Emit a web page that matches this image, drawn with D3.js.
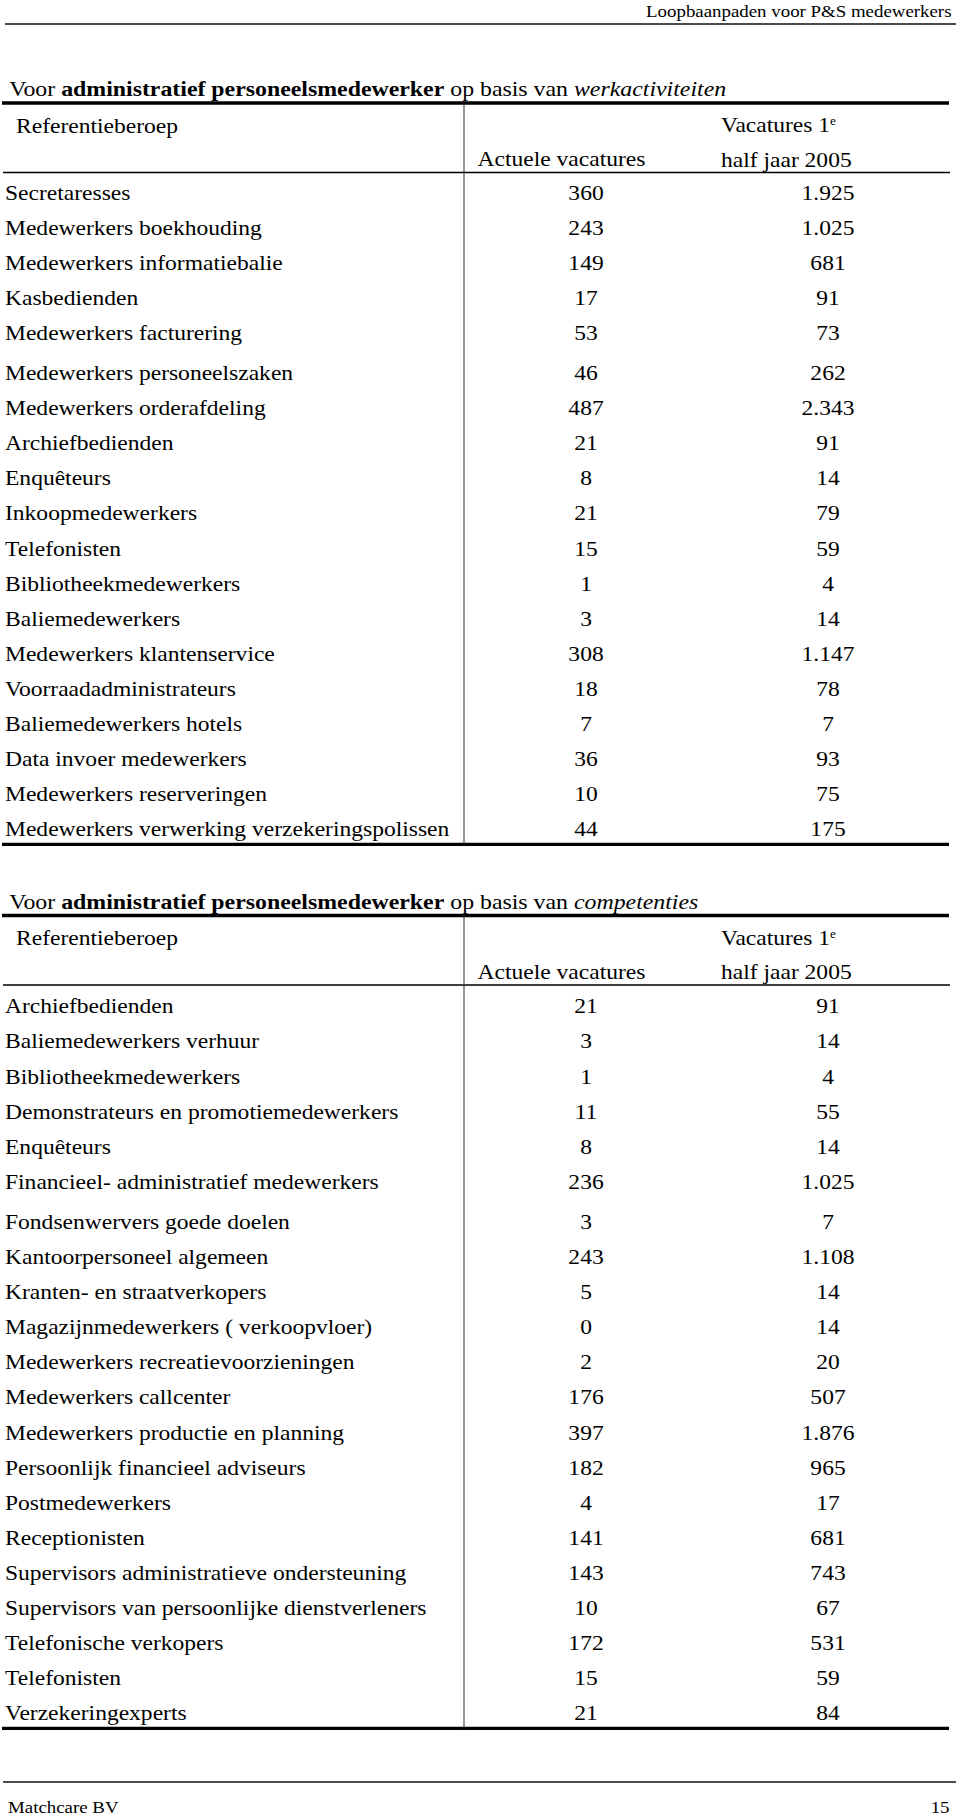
<!DOCTYPE html>
<html lang="nl">
<head>
<meta charset="utf-8">
<title>Loopbaanpaden voor P&amp;S medewerkers</title>
<script src="https://cdn.jsdelivr.net/npm/d3@7"></script>
<style>
  html, body { margin: 0; padding: 0; background: #fff; }
  svg { display: block; }
  text { font-family: "Liberation Serif", "Times New Roman", serif; fill: #000; }
</style>
</head>
<body>
<div id="pagina"></div>
<script>
var width = 960;
var height = 1819;

var kopTekst = 'Loopbaanpaden voor P&S medewerkers';
var voetTekst = 'Matchcare BV';
var paginaNummer = '15';

var kolomKoppen = ['Referentieberoep', 'Actuele vacatures', 'Vacatures 1', 'e', 'half jaar 2005'];
var grondslagen = ['werkactiviteiten', 'competenties'];

// tabel 1: op basis van werkactiviteiten
var beroepenWerk = [
    'Secretaresses', 'Medewerkers boekhouding', 'Medewerkers informatiebalie', 'Kasbedienden',
    'Medewerkers facturering', 'Medewerkers personeelszaken', 'Medewerkers orderafdeling',
    'Archiefbedienden', 'Enquêteurs', 'Inkoopmedewerkers', 'Telefonisten', 'Bibliotheekmedewerkers',
    'Baliemedewerkers', 'Medewerkers klantenservice', 'Voorraadadministrateurs', 'Baliemedewerkers hotels',
    'Data invoer medewerkers', 'Medewerkers reserveringen', 'Medewerkers verwerking verzekeringspolissen'
];
var actueelWerk = [360, 243, 149, 17, 53, 46, 487, 21, 8, 21, 15, 1, 3, 308, 18, 7, 36, 10, 44];
var halfjaarWerk = [1925, 1025, 681, 91, 73, 262, 2343, 91, 14, 79, 59, 4, 14, 1147, 78, 7, 93, 75, 175];

// tabel 2: op basis van competenties
var beroepenComp = [
    'Archiefbedienden', 'Baliemedewerkers verhuur', 'Bibliotheekmedewerkers',
    'Demonstrateurs en promotiemedewerkers', 'Enquêteurs', 'Financieel- administratief medewerkers',
    'Fondsenwervers goede doelen', 'Kantoorpersoneel algemeen', 'Kranten- en straatverkopers',
    'Magazijnmedewerkers ( verkoopvloer)', 'Medewerkers recreatievoorzieningen', 'Medewerkers callcenter',
    'Medewerkers productie en planning', 'Persoonlijk financieel adviseurs', 'Postmedewerkers',
    'Receptionisten', 'Supervisors administratieve ondersteuning', 'Supervisors van persoonlijke dienstverleners',
    'Telefonische verkopers', 'Telefonisten', 'Verzekeringexperts'
];
var actueelComp = [21, 3, 1, 11, 8, 236, 3, 243, 5, 0, 2, 176, 397, 182, 4, 141, 143, 10, 172, 15, 21];
var halfjaarComp = [91, 14, 4, 55, 14, 1025, 7, 1108, 14, 14, 20, 507, 1876, 965, 17, 681, 743, 67, 531, 59, 84];

// Nederlandse notatie: 1.925
var nl = d3.formatLocale({ decimal: ',', thousands: '.', grouping: [3], currency: ['€ ', ''] });
var fmt = nl.format(',d');

var svg = d3.select('#pagina')
    .append('svg')
    .attr('width', width)
    .attr('height', height);

// het origineel is iets breder gezet dan Times, daarom een kleine horizontale rek
var bodySize = 21.5, bodySx = 1.095;
var titelSize = 21, titelSx = 1.135;
var kopSize = 16, kopSx = 1.18;

var kolomX = d3.scaleOrdinal()
    .domain(['beroep', 'actueel', 'halfjaar'])
    .range([5, 586, 828]);

function tekst(g, str, x, y, size, sx, anchor) {
    return g.append('text')
        .attr('transform', `translate(${x},${y}) scale(${sx},1)`)
        .attr('font-size', size)
        .attr('text-anchor', anchor || 'start')
        .text(str);
}

function lijn(g, x1, y1, x2, y2, w, kleur) {
    g.append('line')
        .attr('x1', x1).attr('y1', y1)
        .attr('x2', x2).attr('y2', y2)
        .attr('stroke', kleur || '#000')
        .attr('stroke-width', w);
}

// paginakop en voet
var kop = svg.append('g');
tekst(kop, kopTekst, 951.5, 17, kopSize, kopSx, 'end');
lijn(kop, 5, 24, 956, 24, 1.4, '#111');

var voet = svg.append('g');
lijn(voet, 3, 1782, 956, 1782, 1.4, '#111');
tekst(voet, voetTekst, 8, 1813, kopSize, kopSx);
tekst(voet, paginaNummer, 949.5, 1813, kopSize, kopSx, 'end');

var tabellen = [
    { beroepen: beroepenWerk, actueel: actueelWerk, halfjaar: halfjaarWerk, grondslag: grondslagen[0],
      top: 96, eersteRij: 200, extraVanaf: 5, extra: 4.5 },
    { beroepen: beroepenComp, actueel: actueelComp, halfjaar: halfjaarComp, grondslag: grondslagen[1],
      top: 908.5, eersteRij: 1013.3, extraVanaf: 6, extra: 5 }
];

var rijStap = 35.1;

tabellen.forEach(function (t) {
    var g = svg.append('g');
    var n = t.beroepen.length;

    var y = d3.scaleLinear()
        .domain([0, n - 1])
        .range([t.eersteRij, t.eersteRij + rijStap * (n - 1)]);
    var rijY = function (i) { return y(i) + (i >= t.extraVanaf ? t.extra : 0); };

    // titel met vet en cursief deel
    var titel = g.append('text')
        .attr('transform', `translate(9.3,${t.top}) scale(${titelSx},1)`)
        .attr('font-size', titelSize);
    titel.append('tspan').text('Voor ');
    titel.append('tspan').attr('font-weight', 'bold').text('administratief personeelsmedewerker');
    titel.append('tspan').text(' op basis van ');
    titel.append('tspan').attr('font-style', 'italic').text(t.grondslag);

    var dikY = t.top + 7;
    var dunY = t.top + 76.5;
    var onderY = rijY(n - 1) + 8;

    lijn(g, 2, dikY, 949, dikY, 3.3);
    lijn(g, 3, dunY, 950, dunY, 1.5);
    lijn(g, 2, onderY, 949, onderY, 3.3);
    lijn(g, 464, dikY, 464, onderY, 1, '#333');

    // kolomkoppen
    tekst(g, kolomKoppen[0], 16, t.top + 36.5, bodySize, bodySx);
    tekst(g, kolomKoppen[1], 561.5, t.top + 70, bodySize, bodySx, 'middle');
    var vac = tekst(g, kolomKoppen[2], 721, t.top + 36, bodySize, bodySx);
    vac.append('tspan').attr('font-size', 12).attr('dy', -7).text(kolomKoppen[3]);
    tekst(g, kolomKoppen[4], 721, t.top + 70.5, bodySize, bodySx);

    // rijen
    var rij = g.selectAll('g.rij')
        .data(d3.range(n))
        .enter()
        .append('g')
        .attr('class', 'rij');

    rij.each(function (i) {
        var r = d3.select(this);
        tekst(r, t.beroepen[i], kolomX('beroep'), rijY(i), bodySize, bodySx);
        tekst(r, fmt(t.actueel[i]), kolomX('actueel'), rijY(i), bodySize, bodySx, 'middle');
        tekst(r, fmt(t.halfjaar[i]), kolomX('halfjaar'), rijY(i), bodySize, bodySx, 'middle');
    });
});
</script>
</body>
</html>
